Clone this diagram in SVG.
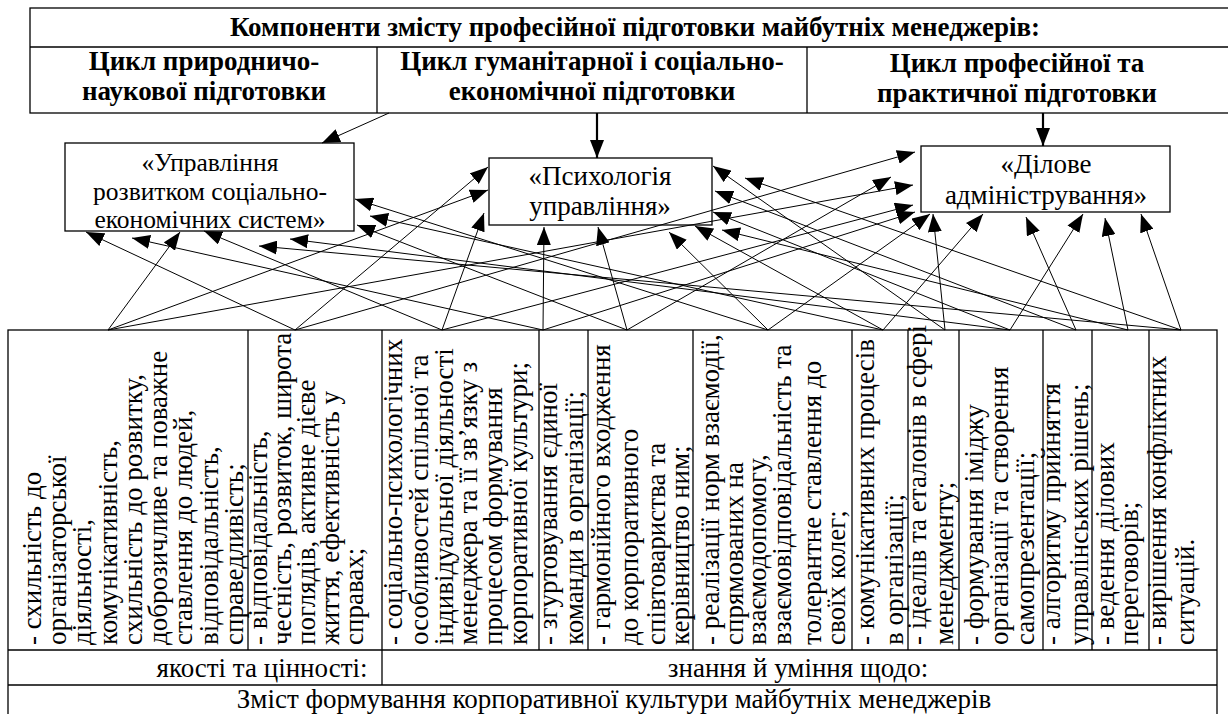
<svg xmlns="http://www.w3.org/2000/svg" width="1228" height="714" viewBox="0 0 1228 714" font-family="'Liberation Serif', 'Times New Roman', Times, 'DejaVu Serif', serif">
<style>
text{font-family:'Liberation Serif','Times New Roman',Times,'DejaVu Serif',serif;fill:#000}
.b{font-weight:bold;font-size:27px;text-anchor:middle}
.n{font-size:27px;text-anchor:middle}
.s{font-size:25.5px;text-anchor:middle}
.c{font-size:27px}
.bx{fill:#fff;stroke:#000;stroke-width:1.3}
.ln{stroke:#000;stroke-width:1.3;fill:none}
.cn line{stroke:#000;stroke-width:1;marker-end:url(#ah)}
.cn line.thick{stroke-width:2.2}
</style>
<defs>
<marker id="ah" viewBox="0 0 18 14" refX="18" refY="7" markerWidth="18" markerHeight="14" markerUnits="userSpaceOnUse" orient="auto"><path d="M0,0 L18,7 L0,14 z" fill="#000"/></marker>
</defs>
<rect width="1228" height="714" fill="#fff"/>

<g id="header">
<rect class="bx" x="30" y="8" width="1210" height="105"/>
<line class="ln" x1="30" y1="47" x2="1240" y2="47"/>
<line class="ln" x1="377" y1="47" x2="377" y2="113"/>
<line class="ln" x1="807" y1="47" x2="807" y2="113"/>
<text class="b" x="635" y="36">Компоненти змісту професійної підготовки майбутніх менеджерів:</text>
</g>
<g id="cycle1"><text class="b" x="204" y="70">Цикл природничо-</text><text class="b" x="204" y="100">наукової підготовки</text></g>
<g id="cycle2"><text class="b" x="592" y="70">Цикл гуманітарної і соціально-</text><text class="b" x="592" y="100">економічної підготовки</text></g>
<g id="cycle3"><text class="b" x="1017" y="72">Цикл професійної та</text><text class="b" x="1017" y="102">практичної підготовки</text></g>

<g id="box1"><rect class="bx" x="65" y="143" width="289" height="88"/>
<text class="s" x="210" y="171">«Управління</text><text class="s" x="210" y="199.5">розвитком соціально-</text><text class="s" x="210" y="228">економічних систем»</text></g>
<g id="box2"><rect class="bx" x="489" y="158" width="223" height="67"/>
<text class="n" x="600" y="185">«Психологія</text><text class="n" x="600" y="215">управління»</text></g>
<g id="box3"><rect class="bx" x="921" y="146" width="249" height="66"/>
<text class="n" x="1046" y="173">«Ділове</text><text class="n" x="1046" y="204">адміністрування»</text></g>

<g id="table">
<rect class="bx" x="8" y="330" width="1209" height="390"/>
<line class="ln" x1="8" y1="650" x2="1217" y2="650"/>
<line class="ln" x1="8" y1="685" x2="1217" y2="685"/>
<line class="ln" x1="382" y1="650" x2="382" y2="685"/>
<line class="ln" x1="248" y1="330" x2="248" y2="650"/>
<line class="ln" x1="382" y1="330" x2="382" y2="650"/>
<line class="ln" x1="539" y1="330" x2="539" y2="650"/>
<line class="ln" x1="588" y1="330" x2="588" y2="650"/>
<line class="ln" x1="693" y1="330" x2="693" y2="650"/>
<line class="ln" x1="852" y1="330" x2="852" y2="650"/>
<line class="ln" x1="908" y1="330" x2="908" y2="650"/>
<line class="ln" x1="959" y1="330" x2="959" y2="650"/>
<line class="ln" x1="1043" y1="330" x2="1043" y2="650"/>
<line class="ln" x1="1092" y1="330" x2="1092" y2="650"/>
<line class="ln" x1="1149" y1="330" x2="1149" y2="650"/>
<text class="n" x="262" y="677">якості та цінності:</text>
<text class="n" x="798" y="677">знання й уміння щодо:</text>
<text class="n" x="614" y="708">Зміст формування корпоративної культури майбутніх менеджерів</text>
</g>

<g id="col1" transform="translate(8,647) rotate(-90)">
<text class="c" x="2" y="33">- схильність до</text>
<text class="c" x="2" y="58">організаторської</text>
<text class="c" x="2" y="83">діяльності,</text>
<text class="c" x="2" y="109">комунікативність,</text>
<text class="c" x="2" y="134">схильність до розвитку,</text>
<text class="c" x="2" y="159">доброзичливе та поважне</text>
<text class="c" x="2" y="184">ставлення до людей,</text>
<text class="c" x="2" y="210">відповідальність,</text>
<text class="c" x="2" y="235">справедливість;</text>
</g>
<g id="col2" transform="translate(248,647) rotate(-90)">
<text class="c" x="2" y="19">- відповідальність,</text>
<text class="c" x="2" y="43">чесність, розвиток, широта</text>
<text class="c" x="2" y="67">поглядів, активне дієве</text>
<text class="c" x="2" y="91">життя, ефективність у</text>
<text class="c" x="2" y="115">справах;</text>
</g>
<g id="col3" transform="translate(382,647) rotate(-90)">
<text class="c" x="2" y="20">- соціально-психологічних</text>
<text class="c" x="2" y="46">особливостей спільної та</text>
<text class="c" x="2" y="71">індивідуальної діяльності</text>
<text class="c" x="2" y="95">менеджера та її зв’язку з</text>
<text class="c" x="2" y="120">процесом формування</text>
<text class="c" x="2" y="145">корпоративної культури;</text>
</g>
<g id="col4" transform="translate(539,647) rotate(-90)">
<text class="c" x="2" y="18">- згуртовування єдиної</text>
<text class="c" x="2" y="44">команди в організації;</text>
</g>
<g id="col5" transform="translate(588,647) rotate(-90)">
<text class="c" x="2" y="22">- гармонійного входження</text>
<text class="c" x="2" y="50">до  корпоративного</text>
<text class="c" x="2" y="77">співтовариства та</text>
<text class="c" x="2" y="101">керівництво ним;</text>
</g>
<g id="col6" transform="translate(693,647) rotate(-90)">
<text class="c" x="2" y="26">- реалізації норм взаємодії,</text>
<text class="c" x="2" y="50">спрямованих на</text>
<text class="c" x="2" y="73">взаємодопомогу,</text>
<text class="c" x="2" y="98">взаємовідповідальність та</text>
<text class="c" x="2" y="128">толерантне ставлення до</text>
<text class="c" x="2" y="152">своїх колег;</text>
</g>
<g id="col7" transform="translate(852,647) rotate(-90)">
<text class="c" x="2" y="22">-  комунікативних процесів</text>
<text class="c" x="2" y="51">в організації;</text>
</g>
<g id="col8" transform="translate(908,647) rotate(-90)">
<text class="c" x="2" y="18">- ідеалів та еталонів в сфері</text>
<text class="c" x="2" y="45">менеджменту;</text>
</g>
<g id="col9" transform="translate(959,647) rotate(-90)">
<text class="c" x="2" y="24">- формування іміджу</text>
<text class="c" x="2" y="49">організації та  створення</text>
<text class="c" x="2" y="75">самопрезентації;</text>
</g>
<g id="col10" transform="translate(1043,647) rotate(-90)">
<text class="c" x="2" y="17">- алгоритму прийняття</text>
<text class="c" x="2" y="45">управлінських рішень;</text>
</g>
<g id="col11" transform="translate(1092,647) rotate(-90)">
<text class="c" x="2" y="22">- ведення ділових</text>
<text class="c" x="2" y="46">переговорів;</text>
</g>
<g id="col12" transform="translate(1149,647) rotate(-90)">
<text class="c" x="2" y="17">- вирішення конфліктних</text>
<text class="c" x="2" y="45">ситуацій.</text>
</g>

<g id="connectors" class="cn">
<line x1="389" y1="113" x2="322" y2="143"/>
<line class="thick" x1="597" y1="113" x2="597" y2="158"/>
<line class="thick" x1="1043" y1="113" x2="1043" y2="146"/>
<line x1="108" y1="330" x2="180" y2="232"/>
<line x1="108" y1="330" x2="488" y2="190"/>
<line x1="108" y1="330" x2="913" y2="185"/>
<line x1="295" y1="330" x2="86" y2="232"/>
<line x1="295" y1="330" x2="488" y2="167"/>
<line x1="295" y1="330" x2="915" y2="152"/>
<line x1="442" y1="330" x2="204" y2="231"/>
<line x1="442" y1="330" x2="484" y2="213"/>
<line x1="442" y1="330" x2="913" y2="205"/>
<line x1="543" y1="330" x2="132" y2="238"/>
<line x1="543" y1="330" x2="544" y2="227"/>
<line x1="543" y1="330" x2="915" y2="212"/>
<line x1="627" y1="330" x2="357" y2="225"/>
<line x1="627" y1="330" x2="598" y2="227"/>
<line x1="627" y1="330" x2="891" y2="177"/>
<line x1="768" y1="330" x2="355" y2="199"/>
<line x1="768" y1="330" x2="669" y2="232"/>
<line x1="768" y1="330" x2="930" y2="214"/>
<line x1="883" y1="330" x2="370" y2="216"/>
<line x1="883" y1="330" x2="695" y2="226"/>
<line x1="883" y1="330" x2="983" y2="214"/>
<line x1="945" y1="330" x2="713" y2="166"/>
<line x1="945" y1="330" x2="933" y2="214"/>
<line x1="1010" y1="330" x2="290" y2="239"/>
<line x1="1010" y1="330" x2="713" y2="212"/>
<line x1="1010" y1="330" x2="1083" y2="214"/>
<line x1="1076" y1="330" x2="715" y2="191"/>
<line x1="1076" y1="330" x2="1026" y2="217"/>
<line x1="1128" y1="330" x2="722" y2="230"/>
<line x1="1128" y1="330" x2="1105" y2="218"/>
<line x1="1181" y1="330" x2="259" y2="246"/>
<line x1="1181" y1="330" x2="745" y2="178"/>
<line x1="1181" y1="330" x2="1141" y2="214"/>
</g>
</svg>
